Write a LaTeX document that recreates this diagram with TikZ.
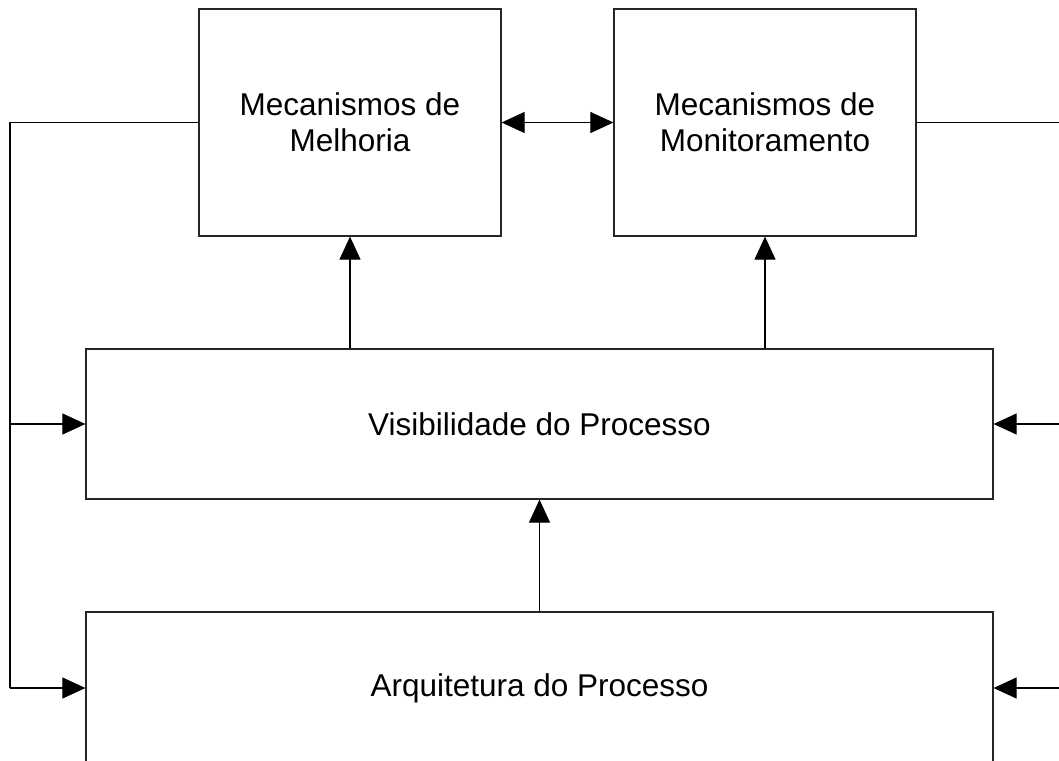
\documentclass[tikz,border=0pt]{standalone}
\usepackage{fontspec}
\setmainfont{Liberation Sans}
\usetikzlibrary{arrows.meta}
\begin{document}
\begin{tikzpicture}[x=1pt,y=-1pt,
  blockbox/.style={draw=black!85,line width=1.2pt,rectangle,inner sep=0pt,align=center,
    font=\fontsize{31.5}{36}\selectfont},
  link/.style={draw=black,line width=1.1pt},
  tip/.style={-{Triangle[length=23pt,width=21pt]}},
  bitip/.style={{Triangle[length=23pt,width=21pt]}-{Triangle[length=23pt,width=21pt]}}]
\useasboundingbox (0,0) rectangle (1059,760);
\clip (0,0) rectangle (1059,760);

% blocks
\node[blockbox,minimum width=302pt,minimum height=227pt] (mel) at (350,122.5) {Mecanismos de\\Melhoria};
\node[blockbox,minimum width=302pt,minimum height=227pt] (mon) at (765,122.5) {Mecanismos de\\Monitoramento};
\node[blockbox,minimum width=907pt,minimum height=150pt] (vis) at (539.5,424) {Visibilidade do Processo};
\node[blockbox,minimum width=907pt,minimum height=152pt] (arq) at (539.5,688) {Arquitetura do Processo};

% routing points of the side feedback lines
\coordinate (l1) at (10,122.5);
\coordinate (l2) at (10,424);
\coordinate (l3) at (10,688);
\coordinate (r1) at (1075,122.5);
\coordinate (r2) at (1075,424);
\coordinate (r3) at (1075,688);

% connectors
\draw[link,bitip] (mel.east) -- (mon.west);
\draw[link,tip] (mel.south |- vis.north) -- (mel.south);
\draw[link,tip] (mon.south |- vis.north) -- (mon.south);
\draw[link,tip] (arq.north) -- (vis.south);

\draw[link] (mel.west) -- (l1) -- (l3);
\draw[link,tip] (l2) -- (vis.west);
\draw[link,tip] (l3) -- (arq.west);

\draw[link] (mon.east) -- (r1) -- (r3);
\draw[link,tip] (r2) -- (vis.east);
\draw[link,tip] (r3) -- (arq.east);
\end{tikzpicture}
\end{document}
